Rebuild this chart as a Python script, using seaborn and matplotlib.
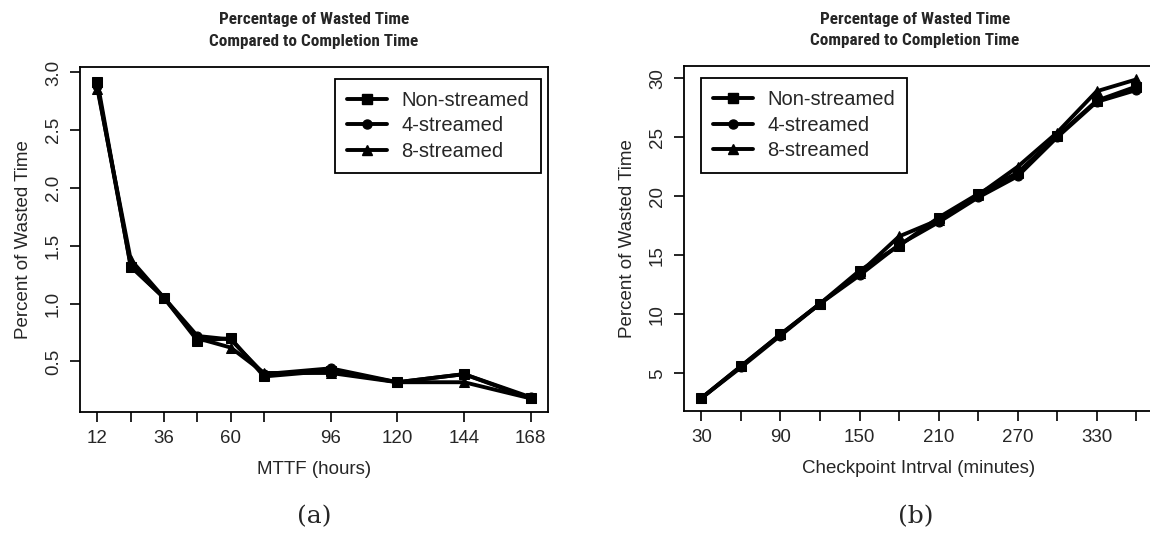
import matplotlib
matplotlib.use("Agg")
import matplotlib.pyplot as plt
from matplotlib import font_manager
import seaborn as sns
import pandas as pd

# ---- data ----
mttf_hours = [12, 24, 36, 48, 60, 72, 96, 120, 144, 168]
mttf_non = [2.92, 1.32, 1.05, 0.68, 0.70, 0.37, 0.42, 0.32, 0.39, 0.18]
mttf_4 = [2.88, 1.33, 1.05, 0.72, 0.69, 0.39, 0.44, 0.32, 0.39, 0.19]
mttf_8 = [2.86, 1.38, 1.05, 0.70, 0.62, 0.40, 0.40, 0.32, 0.32, 0.18]

ckpt_minutes = [30, 60, 90, 120, 150, 180, 210, 240, 270, 300, 330, 360]
ckpt_non = [2.9, 5.6, 8.3, 10.9, 13.7, 15.8, 18.2, 20.2, 22.0, 25.1, 28.1, 29.3]
ckpt_4 = [2.9, 5.5, 8.2, 10.9, 13.3, 15.9, 17.8, 19.9, 21.7, 25.0, 28.0, 29.0]
ckpt_8 = [2.9, 5.6, 8.3, 10.9, 13.5, 16.6, 18.0, 20.1, 22.5, 25.4, 28.9, 29.9]

series_names = ["Non-streamed", "4-streamed", "8-streamed"]
series_markers = ["s", "o", "^"]

mttf_ticks = [12, 24, 36, 48, 60, 72, 96, 120, 144, 168]
mttf_ticklabels = ["12", "", "36", "", "60", "", "96", "120", "144", "168"]
mttf_yticks = [0.5, 1.0, 1.5, 2.0, 2.5, 3.0]
mttf_yticklabels = ["0.5", "1.0", "1.5", "2.0", "2.5", "3.0"]

ckpt_ticks = [30, 60, 90, 120, 150, 180, 210, 240, 270, 300, 330, 360]
ckpt_ticklabels = ["30", "", "90", "", "150", "", "210", "", "270", "", "330", ""]
ckpt_yticks = [5, 10, 15, 20, 25, 30]
ckpt_yticklabels = ["5", "10", "15", "20", "25", "30"]

title_text = "Percentage of Wasted Time\nCompared to Completion Time"
ylabel_text = "Percent of Wasted Time"

# ---- style ----
sns.set_theme(style="ticks")
avail = {f.name for f in font_manager.fontManager.ttflist}
main_font = "Liberation Sans" if "Liberation Sans" in avail else "DejaVu Sans"
narrow_font = main_font
for cand in ["Liberation Sans Narrow", "Roboto Condensed", "Archivo Narrow", "Open Sans Condensed"]:
    if cand in avail:
        narrow_font = cand
        break
plt.rcParams["font.family"] = [main_font, "DejaVu Sans"]

fig = plt.figure(figsize=(11.5, 5.42), dpi=100)
ax1 = fig.add_axes([0.0696, 0.2404, 0.4070, 0.6366])
ax2 = fig.add_axes([0.5948, 0.2422, 0.4083, 0.6360])


def make_df(x, ys):
    rows = []
    for name, vals in zip(series_names, ys):
        for xv, yv in zip(x, vals):
            rows.append({"x": xv, "y": yv, "series": name})
    return pd.DataFrame(rows)


def draw(ax, x, ys, xticks, xticklabels, yticks, yticklabels, xlim, ylim, xlabel, legend_loc, legend_anchor):
    df = make_df(x, ys)
    sns.lineplot(data=df, x="x", y="y", hue="series", style="series",
                 hue_order=series_names, style_order=series_names,
                 palette=["black"] * 3, markers=series_markers, dashes=False,
                 linewidth=2.8, markersize=6.5, markeredgecolor="black",
                 ax=ax, legend=False)
    ax.set_xlim(*xlim)
    ax.set_ylim(*ylim)
    ax.set_xticks(xticks)
    ax.set_xticklabels(xticklabels, fontsize=13.5)
    ax.set_yticks(yticks)
    ax.set_yticklabels(yticklabels, fontsize=13.5, rotation=90, va="center")
    ax.tick_params(direction="out", length=7, width=1.2, color="black", pad=6)
    for s in ax.spines.values():
        s.set_visible(True)
        s.set_color("black")
        s.set_linewidth(1.3)
    ax.set_xlabel(xlabel, fontsize=13.5, labelpad=10)
    ax.set_ylabel(ylabel_text, fontsize=13.5, labelpad=9)
    ax.set_title(title_text, fontsize=12.3, fontweight="bold",
                 family=[narrow_font, "DejaVu Sans"], pad=15, linespacing=1.55)
    handles = [plt.Line2D([], [], color="black", lw=2.8, marker=m, markersize=6.5)
               for m in series_markers]
    leg = ax.legend(handles, series_names, loc=legend_loc, bbox_to_anchor=legend_anchor,
                    fontsize=14.5, frameon=True, fancybox=False, edgecolor="black",
                    handlelength=2.0, handletextpad=0.7, borderpad=0.6,
                    labelspacing=0.33, numpoints=1, borderaxespad=0)
    leg.get_frame().set_linewidth(1.3)
    leg.get_frame().set_alpha(1)


draw(ax1, mttf_hours, [mttf_non, mttf_4, mttf_8], mttf_ticks, mttf_ticklabels,
     mttf_yticks, mttf_yticklabels, (5.76, 174.24), (0.065, 3.05), "MTTF (hours)",
     "upper right", (0.985, 0.965))
draw(ax2, ckpt_minutes, [ckpt_non, ckpt_4, ckpt_8], ckpt_ticks, ckpt_ticklabels,
     ckpt_yticks, ckpt_yticklabels, (16.8, 373.2), (1.83, 31.04),
     "Checkpoint Intrval (minutes)", "upper left", (0.036, 0.965))

ax2.title.set_position((0.492, 1.0))

fig.text(0.273, 0.035, "(a)", fontsize=18, family=["DejaVu Serif"], ha="center")
fig.text(0.796, 0.035, "(b)", fontsize=18, family=["DejaVu Serif"], ha="center")

fig.savefig("out.png", dpi=100, facecolor="white")
